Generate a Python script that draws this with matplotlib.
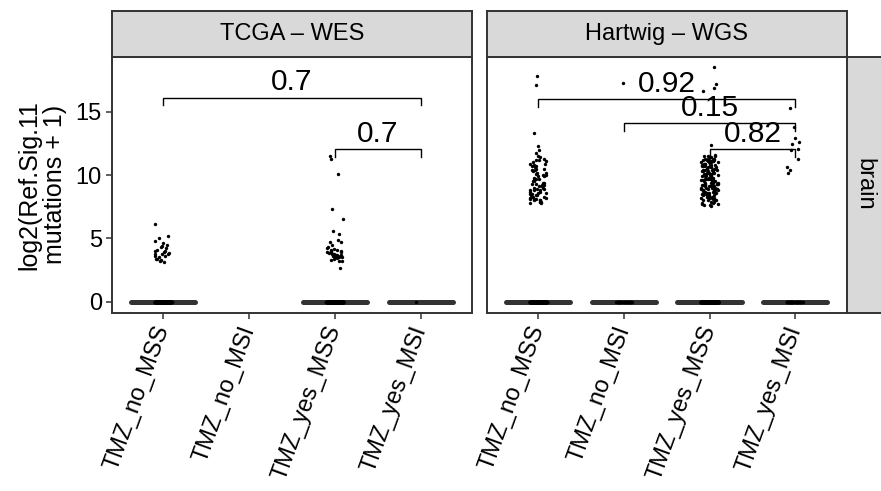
import matplotlib
matplotlib.use("Agg")
import matplotlib.pyplot as plt
import numpy as np

plt.rcParams["font.family"] = ["Liberation Sans", "DejaVu Sans"]

GROUPS = ["TMZ_no_MSS", "TMZ_no_MSI", "TMZ_yes_MSS", "TMZ_yes_MSI"]
PANELS = ["TCGA – WES", "Hartwig – WGS"]
ROW_LABEL = "brain"
Y_LABEL = "log2(Ref.Sig.11\nmutations + 1)"
Y_TICKS = [0, 5, 10, 15]

# samples with zero Ref.Sig.11 mutations, per group
TCGA_ZERO_COUNTS = [300, 0, 350, 1]
HMF_ZERO_COUNTS = [300, 40, 700, 45]

# non-zero log2(mutations + 1) values, per group
TCGA_NO_MSS = [6.1, 5.2, 5.0, 4.8, 4.6, 4.5, 4.4, 4.3, 4.25, 4.1, 4.0, 4.0, 3.9,
               3.85, 3.8, 3.8, 3.75, 3.6, 3.6, 3.5, 3.4, 3.35, 3.3, 3.25, 3.15]
TCGA_NO_MSI = []
TCGA_YES_MSS = [11.5, 11.3, 10.1, 7.3, 6.55, 5.6, 5.35, 4.9, 4.7, 4.7, 4.5, 4.3,
                4.25, 4.2, 4.1, 4.05, 4.0, 4.0, 3.95, 3.9, 3.9, 3.85, 3.8, 3.8,
                3.75, 3.7, 3.7, 3.65, 3.6, 3.6, 3.55, 3.5, 3.5, 3.45, 3.4, 3.3,
                3.25, 3.2, 2.7]
TCGA_YES_MSI = []

HMF_NO_MSS = [17.8, 17.1, 13.3, 12.3, 12.0,
              11.7, 11.5, 11.4, 11.3, 11.2, 11.2, 11.1, 11.0, 10.9, 10.9, 10.8,
              10.7, 10.7, 10.6, 10.5, 10.5, 10.4, 10.4, 10.3, 10.2, 10.2, 10.1,
              10.0, 10.0, 9.9, 9.9, 9.8, 9.7, 9.7, 9.6, 9.6, 9.5, 9.5, 9.4, 9.4,
              9.3, 9.3, 9.2, 9.2, 9.1, 9.1, 9.0, 9.0, 8.9, 8.9, 8.8, 8.8, 8.8,
              8.7, 8.7, 8.6, 8.6, 8.5, 8.5, 8.5, 8.4, 8.4, 8.3, 8.3, 8.3, 8.2,
              8.2, 8.1, 8.1, 8.1, 8.0, 8.0, 8.0, 7.9, 7.9, 7.9, 7.8, 7.8]
HMF_NO_MSI = [17.3]
HMF_YES_MSS = [18.5, 17.2, 16.9, 16.65, 12.4,
               11.6, 11.5, 11.5, 11.5, 11.4, 11.4, 11.3, 11.3, 11.3, 11.3, 11.2,
               11.2, 11.2, 11.2, 11.1, 11.1, 11.1, 11.1, 11.0, 11.0, 11.0, 11.0,
               10.9, 10.9, 10.9, 10.9, 10.8, 10.8, 10.8, 10.8, 10.7, 10.7, 10.7,
               10.7, 10.6, 10.6, 10.6, 10.6, 10.5, 10.5, 10.5, 10.5, 10.4, 10.4,
               10.4, 10.4, 10.3, 10.3, 10.3, 10.3, 10.2, 10.2, 10.2, 10.2, 10.1,
               10.1, 10.1, 10.1, 10.0, 10.0, 10.0, 10.0, 10.0,
               9.9, 9.9, 9.9, 9.9, 9.8, 9.8, 9.8, 9.8, 9.7, 9.7, 9.7, 9.7, 9.6,
               9.6, 9.6, 9.6, 9.5, 9.5, 9.5, 9.5, 9.4, 9.4, 9.4, 9.4, 9.3, 9.3,
               9.3, 9.3, 9.2, 9.2, 9.2, 9.2, 9.1, 9.1, 9.1, 9.1, 9.0, 9.0, 9.0,
               9.0, 9.0,
               8.9, 8.9, 8.9, 8.9, 8.8, 8.8, 8.8, 8.8, 8.7, 8.7, 8.7, 8.7, 8.6,
               8.6, 8.6, 8.6, 8.5, 8.5, 8.5, 8.5, 8.4, 8.4, 8.4, 8.4, 8.3, 8.3,
               8.3, 8.3, 8.2, 8.2, 8.2, 8.2, 8.1, 8.1, 8.1, 8.0, 8.0, 8.0,
               7.9, 7.9, 7.8, 7.8, 7.7, 7.7, 7.6, 7.6, 7.55]
HMF_YES_MSI = [15.3, 13.8, 12.9, 12.6, 12.45, 12.05, 12.0, 11.3, 10.6, 10.4, 10.2]

# p-value brackets: (group 1, group 2, label, bracket height)
TCGA_COMPARISONS = [("TMZ_no_MSS", "TMZ_yes_MSI", "0.7", 16.1),
                    ("TMZ_yes_MSS", "TMZ_yes_MSI", "0.7", 12.05)]
HMF_COMPARISONS = [("TMZ_no_MSS", "TMZ_yes_MSI", "0.92", 16.0),
                   ("TMZ_no_MSI", "TMZ_yes_MSI", "0.15", 14.1),
                   ("TMZ_yes_MSS", "TMZ_yes_MSI", "0.82", 12.05)]

panel_data = [
    (TCGA_ZERO_COUNTS, [TCGA_NO_MSS, TCGA_NO_MSI, TCGA_YES_MSS, TCGA_YES_MSI], TCGA_COMPARISONS),
    (HMF_ZERO_COUNTS, [HMF_NO_MSS, HMF_NO_MSI, HMF_YES_MSS, HMF_YES_MSI], HMF_COMPARISONS),
]

W, H = 881, 491
DARK = "#333333"
STRIP_BG = "#D9D9D9"
TXT = 17
rng = np.random.default_rng(11)  # jitter only

fig = plt.figure(figsize=(W / 100, H / 100), dpi=100)


def frac(x0, y0, x1, y1):
    return [x0 / W, 1 - y1 / H, (x1 - x0) / W, (y1 - y0) / H]


panel_px = [(111.7, 472.3), (486.7, 846.7)]
top, bottom = 56.7, 312.5

axes = []
for i, (zeros, nonzero, comps) in enumerate(panel_data):
    x0, x1 = panel_px[i]
    ax = fig.add_axes(frac(x0, top, x1, bottom))
    axes.append(ax)
    pos = np.arange(1, len(GROUPS) + 1)

    # boxplots (collapsed at zero)
    box_vals, box_pos = [], []
    for j, g in enumerate(GROUPS):
        vals = np.concatenate([np.zeros(zeros[j]), np.array(nonzero[j], dtype=float)])
        if len(vals):
            box_vals.append(vals)
            box_pos.append(pos[j])
    ax.boxplot(box_vals, positions=box_pos, widths=0.75, showfliers=False,
               showcaps=False, manage_ticks=False, zorder=2,
               boxprops=dict(color=DARK, linewidth=1.4),
               whiskerprops=dict(color=DARK, linewidth=1.4),
               medianprops=dict(color=DARK, linewidth=3.6, solid_capstyle="round"))

    # jittered points
    for j, g in enumerate(GROUPS):
        vals = np.concatenate([np.zeros(zeros[j]), np.array(nonzero[j], dtype=float)])
        if not len(vals):
            continue
        xs = pos[j] + rng.uniform(-0.1, 0.1, len(vals))
        ax.scatter(xs, vals, s=6, color="black", linewidths=0, zorder=3)

    # comparison brackets
    for g1, g2, label, yb in comps:
        xa, xb = GROUPS.index(g1) + 1, GROUPS.index(g2) + 1
        tip = 0.6
        ax.plot([xa, xa, xb, xb], [yb - tip, yb, yb, yb - tip], color="black",
                linewidth=1.0, zorder=4, solid_joinstyle="miter")
        ax.text((xa + xb) / 2, yb + 0.1, label, ha="center", va="bottom",
                fontsize=21.5, zorder=5)

    ax.set_xlim(0.4, 4.6)
    ax.set_ylim(-0.85, 19.34)
    ax.set_xticks(pos)
    ax.set_xticklabels(GROUPS, rotation=70, ha="right", va="center",
                       rotation_mode="anchor", fontsize=TXT)
    ax.set_yticks(Y_TICKS)
    ax.tick_params(axis="both", length=4, width=1.1, color=DARK, labelcolor="black",
                   labelsize=TXT, pad=3)
    ax.tick_params(axis="x", pad=6)
    if i > 0:
        ax.tick_params(axis="y", left=False, labelleft=False)
    for s in ax.spines.values():
        s.set_color(DARK)
        s.set_linewidth(1.4)

    # top strip
    sax = fig.add_axes(frac(x0, 11, x1, top))
    sax.set_facecolor(STRIP_BG)
    sax.set_xticks([])
    sax.set_yticks([])
    for s in sax.spines.values():
        s.set_color(DARK)
        s.set_linewidth(1.4)
    sax.text(0.5, 0.5, PANELS[i], ha="center", va="center", fontsize=TXT,
             transform=sax.transAxes)

# right strip
rax = fig.add_axes(frac(846.7, top, 881.5, bottom))
rax.set_facecolor(STRIP_BG)
rax.set_xticks([])
rax.set_yticks([])
for s in rax.spines.values():
    s.set_color(DARK)
    s.set_linewidth(1.4)
rax.text(0.5, 0.5, ROW_LABEL, ha="center", va="center", rotation=-90,
         fontsize=TXT, transform=rax.transAxes)

axes[0].set_ylabel(Y_LABEL, fontsize=18, linespacing=1.1, labelpad=6)

fig.savefig("out.png", dpi=100)
